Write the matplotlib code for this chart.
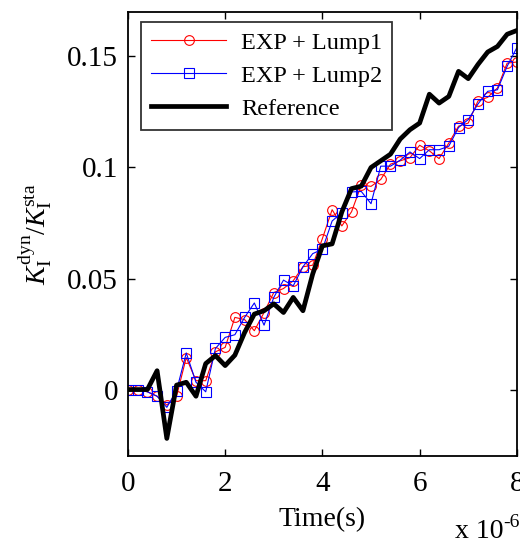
import numpy as np
import matplotlib
matplotlib.use('Agg')
import matplotlib.pyplot as plt

plt.rcParams['font.family'] = ['Liberation Serif', 'DejaVu Serif']
plt.rcParams['mathtext.fontset'] = 'custom'
plt.rcParams['mathtext.rm'] = 'Liberation Serif'
plt.rcParams['mathtext.it'] = 'Liberation Serif:italic'
plt.rcParams['mathtext.bf'] = 'Liberation Serif:bold'

# time in units of 1e-6 s
t = np.arange(41) * 0.2

lump1 = [0, 0, -0.001, -0.003, -0.007, -0.003, 0.0144, 0.004, 0.004, 0.017,
         0.019, 0.0325, 0.0315, 0.0265, 0.0347, 0.0437, 0.0455, 0.049, 0.0553, 0.056,
         0.068, 0.081, 0.0737, 0.0801, 0.0921, 0.0915, 0.0946, 0.1015, 0.103, 0.1044,
         0.110, 0.1075, 0.104, 0.111, 0.1186, 0.120, 0.130, 0.1316, 0.1358, 0.147,
         0.1475]

lump2 = [0, 0, -0.001, -0.003, -0.008, -0.0005, 0.0165, 0.0033, -0.001, 0.0185,
         0.0235, 0.0247, 0.0325, 0.039, 0.029, 0.0415, 0.0493, 0.0467, 0.0553, 0.0612,
         0.0632, 0.0759, 0.0797, 0.089, 0.0892, 0.0837, 0.1006, 0.1006, 0.1033, 0.107,
         0.104, 0.108, 0.108, 0.1096, 0.118, 0.1216, 0.1286, 0.1343, 0.135, 0.1456,
         0.154]

reference = [0, 0, 0, 0.0085, -0.022, 0.002, 0.0033, -0.003, 0.0117, 0.0153,
             0.0108, 0.0155, 0.0257, 0.034, 0.0355, 0.0386, 0.0347, 0.0415, 0.0355, 0.052,
             0.0647, 0.0656, 0.080, 0.0905, 0.0916, 0.100, 0.103, 0.106, 0.1128, 0.117,
             0.120, 0.133, 0.129, 0.132, 0.1433, 0.140, 0.1464, 0.152, 0.1545, 0.160,
             0.1617]

fig = plt.figure(figsize=(5.2, 5.47), dpi=100)
ax = fig.add_axes([0.246, 0.166, 0.748, 0.812])

ax.plot(t, lump1, '-o', color='red', lw=0.8, ms=7, mfc='none', mew=0.8,
        label='EXP + Lump1')
ax.plot(t, lump2, '-s', color='blue', lw=0.8, ms=7, mfc='none', mew=0.8,
        label='EXP + Lump2')
ax.plot(t, reference, '-', color='black', lw=3.4, label='Reference')

ax.set_xlim(0, 8)
ax.set_ylim(-0.03, 0.17)
ax.set_xticks([0, 2, 4, 6, 8])
ax.set_xticklabels(['0', '2', '4', '6', '8'])
ax.set_yticks([0, 0.05, 0.1, 0.15])
ax.set_yticklabels(['0', '0.05', '0.1', '0.15'])
ax.tick_params(direction='in', top=True, right=True, labelsize=21, length=5,
               width=1)
ax.tick_params(axis='x', pad=11)
ax.tick_params(axis='y', pad=7)
for s in ax.spines.values():
    s.set_linewidth(1.3)

ax.set_xlabel('Time(s)', fontsize=20)
ax.xaxis.set_label_coords(0.5, -0.115)
ax.set_ylabel(r'$K_\mathrm{I}^\mathrm{dyn}/K_\mathrm{I}^\mathrm{sta}$', fontsize=20)
ax.yaxis.set_label_coords(-0.19, 0.5)

# MATLAB-style exponent label
fig.text(0.875, 0.016, 'x 10', fontsize=20, va='baseline')
fig.text(0.967, 0.036, '-6', fontsize=14, va='baseline')

leg = ax.legend(loc='upper left', fontsize=17.5, frameon=True, fancybox=False,
                edgecolor='black', handlelength=3.1, handletextpad=0.6,
                borderpad=0.4, labelspacing=0.45, borderaxespad=0,
                bbox_to_anchor=(0.034, 0.977))
leg.get_frame().set_linewidth(1.3)

fig.savefig('out.png', dpi=100)
